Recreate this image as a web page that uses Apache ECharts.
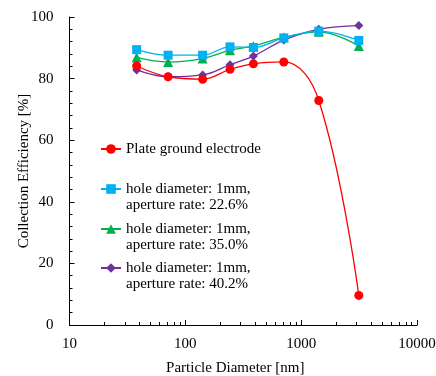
<!DOCTYPE html>
<html><head><meta charset="utf-8">
<script src="https://cdn.jsdelivr.net/npm/echarts@6/dist/echarts.min.js"></script>
<style>html,body{margin:0;padding:0;background:#fff}#c{width:436px;height:376px}</style>
</head><body><div id="c"></div>
<script>
const diameters = [38, 71, 141, 243, 387, 708, 1419, 3144];
const plateValues = [84.1, 80.6, 79.8, 83.0, 84.8, 85.4, 72.9, 9.6];
const hole226Values = [89.4, 87.6, 87.6, 90.3, 90.1, 93.2, 95.4, 92.4];
const hole350Values = [86.9, 85.4, 86.5, 89.2, 90.6, 93.4, 95.2, 90.6];
const hole402Values = [82.8, 80.6, 81.2, 84.5, 87.3, 92.5, 96.0, 97.2];
const seriesNames = ['Plate ground electrode', 'hole diameter: 1mm, aperture rate: 22.6%', 'hole diameter: 1mm, aperture rate: 35.0%', 'hole diameter: 1mm, aperture rate: 40.2%'];
const legendLines = [['Plate ground electrode'], ['hole diameter: 1mm,', 'aperture rate: 22.6%'], ['hole diameter: 1mm,', 'aperture rate: 35.0%'], ['hole diameter: 1mm,', 'aperture rate: 40.2%']];
const yTicks = [0, 20, 40, 60, 80, 100];
const xTicks = [10, 100, 1000, 10000];

const colors = ['#FF0000', '#00B0F0', '#00B050', '#7030A0'];
const symbols = ['circle', 'rect', 'triangle', 'diamond'];
const symbolSizes = [9, 9, 10, 9];
const allValues = [plateValues, hole226Values, hole350Values, hole402Values];
const font = 'Liberation Serif';

const series = allValues.map((vals, i) => ({
  name: seriesNames[i],
  type: 'line',
  data: diameters.map((d, j) => [d, vals[j]]),
  smooth: 0.4,
  symbol: symbols[i],
  symbolSize: symbolSizes[i],
  itemStyle: { color: colors[i] },
  lineStyle: { color: colors[i], width: 1.3 },
  z: 10 - i
}));

// two-line entries get a blank first line so the icon sits beside the first text line
const rowCenters = [149, 189, 229, 268];
const legends = seriesNames.map((n, i) => {
  const multi = legendLines[i].length > 1;
  return {
    data: [n],
    left: 100,
    top: multi ? rowCenters[i] - 24 : rowCenters[i] - 8,
    padding: 0,
    itemWidth: 20,
    itemHeight: 12,
    selectedMode: false,
    formatter: () => (multi ? '\n' : '') + legendLines[i].join('\n'),
    textStyle: { fontFamily: font, fontSize: 15, color: '#000', lineHeight: 16 }
  };
});

const chart = echarts.init(document.getElementById('c'));
chart.setOption({
  backgroundColor: '#fff',
  animation: false,
  grid: { left: 69.5, right: 19, top: 17, bottom: 51, containLabel: false, outerBoundsMode: 'none' },
  legend: legends,
  xAxis: {
    type: 'log', logBase: 10, min: xTicks[0], max: xTicks[xTicks.length - 1],
    name: 'Particle Diameter [nm]', nameLocation: 'middle', nameGap: 36, nameMoveOverlap: false,
    nameTextStyle: { fontFamily: font, fontSize: 15, color: '#000', padding: [0, 16, 0, 0] },
    axisLine: { lineStyle: { color: '#000', width: 1 } },
    axisTick: { inside: true, length: 5, lineStyle: { color: '#000' } },
    minorTick: { show: true, splitNumber: 9, length: 3, lineStyle: { color: '#000' } },
    axisLabel: { fontFamily: font, fontSize: 15, color: '#000', margin: 12, formatter: v => String(v) },
    splitLine: { show: false }
  },
  yAxis: {
    type: 'value', min: yTicks[0], max: yTicks[yTicks.length - 1], interval: 20,
    name: 'Collection Efficiency [%]', nameLocation: 'middle', nameGap: 38, nameMoveOverlap: false,
    nameTextStyle: { fontFamily: font, fontSize: 15, color: '#000' },
    axisLine: { show: true, lineStyle: { color: '#000', width: 1 } },
    axisTick: { show: true, inside: true, length: 5, lineStyle: { color: '#000' } },
    minorTick: { show: true, splitNumber: 5, length: 3, lineStyle: { color: '#000' } },
    axisLabel: { fontFamily: font, fontSize: 15, color: '#000', margin: 16 },
    splitLine: { show: false }
  },
  series: series
});
</script></body></html>
